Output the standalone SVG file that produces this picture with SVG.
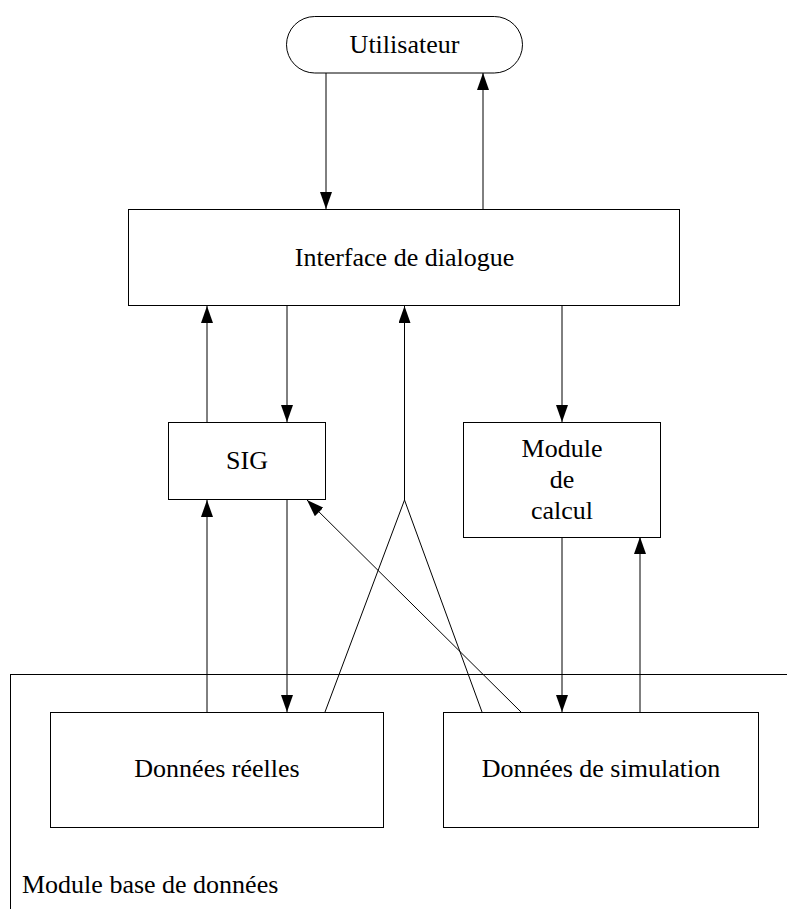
<svg xmlns="http://www.w3.org/2000/svg" width="787" height="909" viewBox="0 0 787 909">
<style>
.box{fill:#fff;stroke:#000;stroke-width:1}
.ln{fill:none;stroke:#000;stroke-width:1}
.ar{marker-end:url(#ah)}
.t{font-family:'Liberation Serif','Times New Roman',serif;font-size:26px;fill:#000}
.c{text-anchor:middle}
</style>
<defs>
<marker id="ah" markerUnits="userSpaceOnUse" markerWidth="17" markerHeight="12" refX="17" refY="6" orient="auto">
<path d="M0,0 L17,6 L0,12 z" fill="#000"/>
</marker>
</defs>
<rect width="787" height="909" fill="#fff"/>
<g id="module-bdd">
<rect x="10.5" y="674.5" width="800" height="300" fill="none" stroke="#000" stroke-width="1"/>
<text class="t" x="22" y="893">Module base de données</text>
</g>
<g id="connectors">
<line class="ln ar" x1="326" y1="73" x2="326" y2="209"/>
<line class="ln ar" x1="483" y1="209" x2="483" y2="73"/>
<line class="ln ar" x1="207" y1="422" x2="207" y2="306"/>
<line class="ln ar" x1="287" y1="306" x2="287" y2="422"/>
<line class="ln ar" x1="404.5" y1="500" x2="404.5" y2="306"/>
<polyline class="ln" points="325,712 404.5,500 482,712"/>
<line class="ln ar" x1="562" y1="306" x2="562" y2="422"/>
<line class="ln ar" x1="207" y1="712" x2="207" y2="500"/>
<line class="ln ar" x1="287" y1="500" x2="287" y2="712"/>
<line class="ln ar" x1="521" y1="712" x2="307" y2="500"/>
<line class="ln ar" x1="562" y1="537" x2="562" y2="712"/>
<line class="ln ar" x1="640" y1="712" x2="640" y2="537"/>
</g>
<g id="utilisateur">
<rect class="box" x="286.5" y="16.5" width="236" height="56.5" rx="28.25" ry="28.25"/>
<text class="t c" x="404.5" y="53">Utilisateur</text>
</g>
<g id="interface">
<rect class="box" x="128.5" y="209.5" width="551" height="96"/>
<text class="t c" x="404.5" y="266">Interface de dialogue</text>
</g>
<g id="sig">
<rect class="box" x="168.5" y="422.5" width="157" height="77"/>
<text class="t c" x="247" y="469">SIG</text>
</g>
<g id="module-calcul">
<rect class="box" x="463.5" y="422.5" width="197" height="115"/>
<text class="t c" x="562" y="457">Module</text>
<text class="t c" x="562" y="488">de</text>
<text class="t c" x="562" y="519">calcul</text>
</g>
<g id="donnees-reelles">
<rect class="box" x="50.5" y="712.5" width="333" height="115"/>
<text class="t c" x="217" y="777">Données réelles</text>
</g>
<g id="donnees-simulation">
<rect class="box" x="443.5" y="712.5" width="315" height="115"/>
<text class="t c" x="601" y="777">Données de simulation</text>
</g>
</svg>
